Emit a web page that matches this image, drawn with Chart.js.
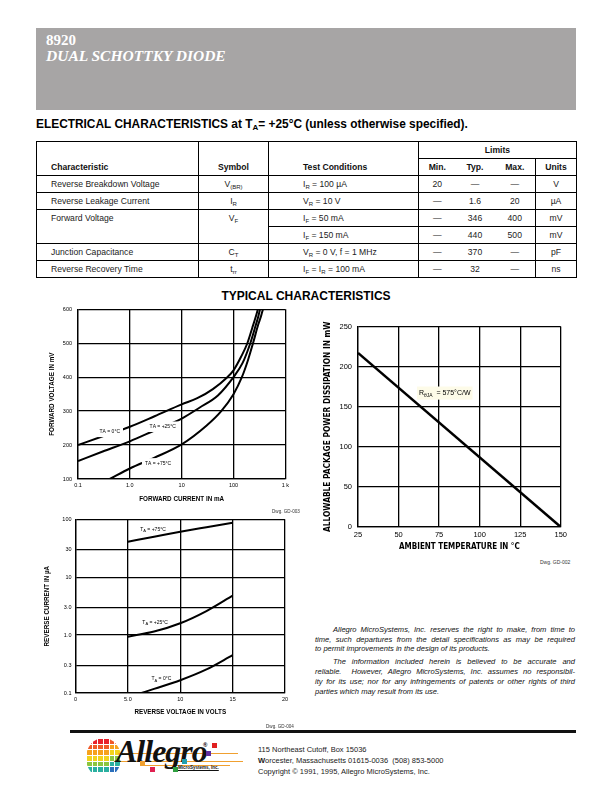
<!DOCTYPE html>
<html><head><meta charset="utf-8">
<script src="https://cdn.jsdelivr.net/npm/chart.js@4.4.1/dist/chart.umd.min.js"></script>
<style>
html,body{margin:0;padding:0;background:#fff;}
body{width:612px;height:792px;position:relative;overflow:hidden;font-family:"Liberation Sans",Arial,sans-serif;color:#000;}
.abs{position:absolute;}
#hdr{left:36px;top:28px;width:540px;height:82px;background:#a7a5a5;}
#hdr .pn{position:absolute;left:10px;top:4px;font:bold 15px "Liberation Serif","Times New Roman",serif;color:#fff;line-height:17px;}
#hdr .nm{position:absolute;left:10px;top:19px;font:italic bold 15.5px "Liberation Serif","Times New Roman",serif;color:#fff;line-height:18px;}
#ect{left:36px;top:117px;font:bold 11.9px "Liberation Sans",Arial,sans-serif;white-space:nowrap;}
#ect sub{font-size:8px;vertical-align:-2px;line-height:0;}
#tbl{left:36px;top:141px;width:540px;border-collapse:collapse;table-layout:fixed;font:8.6px "Liberation Sans",Arial,sans-serif;color:#222;}
#tbl td{border:1px solid #000;height:16px;padding:0;line-height:16px;white-space:nowrap;}
#tbl td.l{padding-left:14px;text-align:left;}
#tbl td.c{text-align:center;}
#tbl td.t{padding-left:34px;text-align:left;}
#tbl td.hb{font-weight:bold;color:#111;}
#tbl td.bot{vertical-align:bottom;}
#tbl td.top{vertical-align:top;}
#tbl td.nr{border-right:none;}
#tbl td.nl{border-left:none;}
#tbl sub{font-size:6px;vertical-align:-2px;line-height:0;}
#typ{left:0;width:612px;top:289px;text-align:center;font:bold 12px "Liberation Sans",Arial,sans-serif;}
canvas{position:absolute;}
.dwg{font:4.6px "Liberation Sans",Arial,sans-serif;color:#333;white-space:nowrap;}
#disc{left:315px;top:625px;width:260px;font:italic 7.55px "Liberation Sans",Arial,sans-serif;line-height:9.7px;color:#111;}
#disc div{text-align:justify;text-align-last:justify;white-space:nowrap;}
#disc div.last{text-align-last:left;}
#disc div.ind{padding-left:18px;}
#disc div.gap{margin-top:3.3px;}
#fline{left:70px;top:730px;width:506px;height:3px;background:#111;}
#addr{left:258px;top:745px;font:7.5px "Liberation Sans",Arial,sans-serif;line-height:10.8px;color:#222;white-space:nowrap;}
#ball{left:86px;top:738px;width:33px;height:38px;border-radius:50%;overflow:hidden;display:grid;grid-template-columns:repeat(6,4.5px);grid-auto-rows:4.5px;gap:1.2px;padding:1px;}
#ball span{display:block;}
#alg{left:116px;top:733px;font:italic bold 32px "Liberation Serif","Times New Roman",serif;letter-spacing:-1px;color:#111;}
.oline{position:absolute;height:1px;background:#f0a030;}
.sq{position:absolute;width:5px;height:5px;}
#ms{left:178px;top:765px;font:bold 4.5px "Liberation Sans",Arial,sans-serif;color:#111;text-decoration:underline;}
</style></head>
<body>
<div id="hdr" class="abs"><div class="pn">8920</div><div class="nm">DUAL SCHOTTKY DIODE</div></div>
<div id="ect" class="abs">ELECTRICAL CHARACTERISTICS at T<sub>A</sub>= +25°C (unless otherwise specified).</div>

<table id="tbl" class="abs">
<colgroup><col style="width:162px"><col style="width:70px"><col style="width:150px"><col style="width:37px"><col style="width:39px"><col style="width:41px"><col style="width:41px"></colgroup>
<tr><td rowspan="2" class="l hb bot">Characteristic</td><td rowspan="2" class="c hb bot">Symbol</td><td rowspan="2" class="t hb bot">Test Conditions</td><td colspan="4" class="c hb">Limits</td></tr>
<tr><td class="c hb nr">Min.</td><td class="c hb nl nr">Typ.</td><td class="c hb nl">Max.</td><td class="c hb">Units</td></tr>
<tr><td class="l">Reverse Breakdown Voltage</td><td class="c">V<sub>(BR)</sub></td><td class="t">I<sub>R</sub> = 100 µA</td><td class="c nr">20</td><td class="c nl nr">—</td><td class="c nl">—</td><td class="c">V</td></tr>
<tr><td class="l">Reverse Leakage Current</td><td class="c">I<sub>R</sub></td><td class="t">V<sub>R</sub> = 10 V</td><td class="c nr">—</td><td class="c nl nr">1.6</td><td class="c nl">20</td><td class="c">µA</td></tr>
<tr><td rowspan="2" class="l top">Forward Voltage</td><td rowspan="2" class="c top">V<sub>F</sub></td><td class="t">I<sub>F</sub> = 50 mA</td><td class="c nr">—</td><td class="c nl nr">346</td><td class="c nl">400</td><td class="c">mV</td></tr>
<tr><td class="t">I<sub>F</sub> = 150 mA</td><td class="c nr">—</td><td class="c nl nr">440</td><td class="c nl">500</td><td class="c">mV</td></tr>
<tr><td class="l">Junction Capacitance</td><td class="c">C<sub>T</sub></td><td class="t">V<sub>R</sub> = 0 V, f = 1 MHz</td><td class="c nr">—</td><td class="c nl nr">370</td><td class="c nl">—</td><td class="c">pF</td></tr>
<tr><td class="l">Reverse Recovery Time</td><td class="c">t<sub>rr</sub></td><td class="t">I<sub>F</sub> = I<sub>R</sub> = 100 mA</td><td class="c nr">—</td><td class="c nl nr">32</td><td class="c nl">—</td><td class="c">ns</td></tr>
</table>

<div id="typ" class="abs">TYPICAL CHARACTERISTICS</div>

<canvas id="c1" width="252" height="212" style="left:40px;top:300px;"></canvas>
<canvas id="c2" width="252" height="240" style="left:318px;top:316px;"></canvas>
<canvas id="c3" width="256" height="208" style="left:36px;top:512px;"></canvas>

<div class="abs dwg" style="left:272px;top:509px;">Dwg. GD-003</div>
<div class="abs dwg" style="left:540px;top:559px;font-size:5px;">Dwg. GD-002</div>
<div class="abs dwg" style="left:266px;top:724px;">Dwg. GD-004</div>

<div id="disc" class="abs">
<div class="ind">Allegro MicroSystems, Inc. reserves the right to make, from time to</div>
<div>time, such departures from the detail specifications as may be required</div>
<div class="last">to permit improvements in the design of its products.</div>
<div class="ind gap">The information included herein is believed to be accurate and</div>
<div>reliable.&nbsp; However, Allegro MicroSystems, Inc. assumes no responsibil-</div>
<div>ity for its use; nor for any infringements of patents or other rights of third</div>
<div class="last">parties which may result from its use.</div>
</div>

<div id="fline" class="abs"></div>
<div id="ball" class="abs"></div>
<div class="oline" style="left:118px;top:753px;width:120px;"></div>
<div class="oline" style="left:118px;top:761px;width:125px;"></div>
<div class="oline" style="left:140px;top:765px;width:90px;"></div>
<div id="alg" class="abs">Allegro</div>
<div class="abs" style="left:203px;top:742px;font:bold 6px 'Liberation Sans',Arial;">®</div>
<div class="sq" style="left:212px;top:743px;background:#e02020;"></div>
<div class="sq" style="left:206px;top:751px;background:#6030a0;"></div>
<div class="sq" style="left:140px;top:761px;background:#f0a030;"></div>
<div class="sq" style="left:150px;top:767px;background:#e02050;"></div>
<div class="sq" style="left:182px;top:759px;background:#20a0b0;"></div>
<div class="sq" style="left:173px;top:767px;background:#30a040;"></div>
<div id="ms" class="abs">MicroSystems, Inc.</div>
<div id="addr" class="abs">115 Northeast Cutoff, Box 15036<br><b>W</b>orcester, Massachusetts 01615-0036&nbsp; (508) 853-5000<br>Copyright © 1991, 1995, Allegro MicroSystems, Inc.</div>

<script>
// ---------- DATA ----------
// Forward voltage (mV) vs forward current (mA)
const fwdCurrent_0C  = [0.1, 0.3, 1, 3, 10, 20, 40, 76, 100, 140, 185, 230, 265, 295];
const fwdVoltage_0C  = [200, 226, 254, 285, 320, 338, 365, 400, 420, 460, 500, 545, 575, 600];
const fwdCurrent_25C = [0.1, 0.3, 1, 3, 10, 22, 50, 100, 150, 211, 265, 300, 325];
const fwdVoltage_25C = [153, 181, 211, 243, 278, 310, 346, 400, 442, 500, 550, 578, 600];
const fwdCurrent_75C = [0.41, 1, 3, 10, 30, 58, 100, 145, 190, 238, 300, 340, 370];
const fwdVoltage_75C = [100, 131, 163, 202, 257, 300, 350, 400, 450, 500, 555, 580, 600];
const fwdXTicks = [0.1, 1, 10, 100, 1000];
const fwdXTickLabels = ['0.1', '1.0', '10', '100', '1 k'];

// Power derating (mW vs °C)
const ambientTemp = [25, 150];
const powerDissipation = [217, 0];

// Reverse current (µA) vs reverse voltage (V)
const revVoltage_75C = [5, 7.5, 10, 12.5, 15];
const revCurrent_75C = [41, 50, 61, 73, 87];
const revVoltage_25C = [5, 7.5, 10, 12.5, 15];
const revCurrent_25C = [0.94, 1.15, 1.6, 2.6, 4.8];
const revVoltage_0C  = [6.3, 7.5, 10, 12.5, 15];
const revCurrent_0C  = [0.1, 0.118, 0.166, 0.255, 0.45];
const revYTicks = [0.1, 0.3, 1, 3, 10, 30, 100];
const revYTickLabels = ['0.1', '0.3', '1.0', '3.0', '10', '30', '100'];
const revXTickLabels = ['0', '5.0', '10', '15', '20'];

// ---------- rendering ----------
const FAM = '"Liberation Sans", Arial, sans-serif';
Chart.defaults.font.family = FAM;
Chart.defaults.color = '#000';

// choose a narrow bold font for the derating chart titles, sized to fit
const mctx = document.createElement('canvas').getContext('2d');
function titleFont(text, target, base) {
  mctx.font = 'bold 9px "DejaVu Sans"';
  const wn = mctx.measureText(text).width;
  mctx.font = 'bold condensed 9px "DejaVu Sans"';
  const wc = mctx.measureText(text).width;
  if (wc < wn * 0.93) {
    const size = Math.min(base, 9 * target / wc);
    return {size: size, weight: 'bold condensed', family: '"DejaVu Sans"'};
  }
  mctx.font = 'bold 9px ' + FAM;
  const wl = mctx.measureText(text).width;
  return {size: Math.min(base, 9 * target / wl), weight: 'bold', family: FAM};
}
const yTitle2 = 'ALLOWABLE PACKAGE POWER DISSIPATION IN mW';
const xTitle2 = 'AMBIENT TEMPERATURE IN °C';
const yFont2 = titleFont(yTitle2, 211, 9.5);
const xFont2 = titleFont(xTitle2, 121, 9.5);

const pts = (xs, ys) => xs.map((x, i) => ({x: x, y: ys[i]}));

const curveLabels = {
  id: 'curveLabels',
  afterDatasetsDraw(chart, args, o) {
    const ctx = chart.ctx, xs = chart.scales.x, ys = chart.scales.y;
    (o.items || []).forEach(it => {
      const px = xs.getPixelForValue(it.x), py = ys.getPixelForValue(it.y);
      const f = o.size, fs = f * (o.subScale || 0.75);
      ctx.save();
      let w = 0;
      it.parts.forEach(p => { ctx.font = (p[1] ? fs : f) + 'px ' + FAM; w += ctx.measureText(p[0]).width; });
      const x0 = px - w / 2;
      if (o.bg) {
        ctx.fillStyle = o.bg;
        ctx.fillRect(x0 - o.padX, py - f * 0.65 - o.padY, w + 2 * o.padX, f * 1.3 + 2 * o.padY);
      }
      ctx.fillStyle = '#000'; ctx.textBaseline = 'middle'; ctx.textAlign = 'left';
      let x = x0;
      it.parts.forEach(p => {
        ctx.font = (p[1] ? fs : f) + 'px ' + FAM;
        ctx.fillText(p[0], x, p[1] ? py + f * 0.3 : py);
        x += ctx.measureText(p[0]).width;
      });
      ctx.restore();
    });
  }
};

const gridOpts = {color: '#000', lineWidth: 1.3, drawTicks: false};
const borderOpts = {color: '#000', width: 1.3};
const lineDs = (data) => ({data: data, borderColor: '#000', borderWidth: 2, pointRadius: 0, fill: false, cubicInterpolationMode: 'monotone'});

// Chart 1: forward voltage
new Chart(document.getElementById('c1'), {
  type: 'line',
  data: {datasets: [
    lineDs(pts(fwdCurrent_0C, fwdVoltage_0C)),
    lineDs(pts(fwdCurrent_25C, fwdVoltage_25C)),
    lineDs(pts(fwdCurrent_75C, fwdVoltage_75C))
  ]},
  options: {
    responsive: false, animation: false, devicePixelRatio: 1,
    layout: {padding: {top: 7, right: 6, left: 0, bottom: 0}},
    plugins: {legend: {display: false}, tooltip: {enabled: false},
      curveLabels: {size: 5, padX: 3, padY: 2, bg: '#fff', subScale: 0.85, items: [
        {x: 0.41, y: 239, parts: [['T', 0], ['A', 0], [' = 0°C', 0]]},
        {x: 4.3, y: 254, parts: [['T', 0], ['A', 0], [' = +25°C', 0]]},
        {x: 3.5, y: 146, parts: [['T', 0], ['A', 0], [' = +75°C', 0]]}
      ]}},
    scales: {
      x: {type: 'logarithmic', min: 0.1, max: 1000,
        afterBuildTicks: s => { s.ticks = fwdXTicks.map(v => ({value: v})); },
        afterFit: s => { s.height = 33; },
        ticks: {callback: (v, i) => fwdXTickLabels[i], font: {size: 5.5}, padding: 3, maxRotation: 0, autoSkip: false},
        grid: gridOpts, border: borderOpts,
        title: {display: true, text: 'FORWARD CURRENT IN mA', font: {size: 6.3, weight: 'bold'}, padding: {top: 0, bottom: 9}}},
      y: {type: 'linear', min: 100, max: 600,
        afterFit: s => { s.width = 38; },
        ticks: {stepSize: 100, font: {size: 5.5}, padding: 6},
        grid: gridOpts, border: borderOpts,
        title: {display: true, text: 'FORWARD VOLTAGE IN mV', font: {size: 6.3, weight: 'bold'}, padding: {top: 8, bottom: 0}}}
    }
  },
  plugins: [curveLabels]
});

// Chart 2: power derating
new Chart(document.getElementById('c2'), {
  type: 'line',
  data: {datasets: [Object.assign(lineDs(pts(ambientTemp, powerDissipation)), {borderWidth: 2.5, cubicInterpolationMode: 'default', tension: 0})]},
  options: {
    responsive: false, animation: false, devicePixelRatio: 1,
    layout: {padding: {top: 7, right: 7, left: 0, bottom: 0}},
    plugins: {legend: {display: false}, tooltip: {enabled: false},
      curveLabels: {size: 7, padX: 2, padY: 2, bg: '#fdfbe8', subScale: 0.7, items: [
        {x: 78.5, y: 167, parts: [['R', 0], ['θJA', 1], ['  = 575°C/W', 0]]}
      ]}},
    scales: {
      x: {type: 'linear', min: 25, max: 150,
        afterFit: s => { s.height = 29; },
        ticks: {stepSize: 25, font: {size: 7.5}, padding: 3, maxRotation: 0},
        grid: gridOpts, border: borderOpts,
        title: {display: true, text: xTitle2, font: xFont2, padding: {top: 0, bottom: Math.max(0, 8.7 - xFont2.size * 0.6)}}},
      y: {type: 'linear', min: 0, max: 250,
        afterFit: s => { s.width = 40; },
        ticks: {stepSize: 50, font: {size: 7.5}, padding: 6},
        grid: gridOpts, border: borderOpts,
        title: {display: true, text: yTitle2, font: yFont2, padding: {top: Math.max(0, 9.5 - yFont2.size * 0.6), bottom: 0}}}
    }
  },
  plugins: [curveLabels]
});

// Chart 3: reverse current
new Chart(document.getElementById('c3'), {
  type: 'line',
  data: {datasets: [
    lineDs(pts(revVoltage_75C, revCurrent_75C)),
    lineDs(pts(revVoltage_25C, revCurrent_25C)),
    lineDs(pts(revVoltage_0C, revCurrent_0C))
  ]},
  options: {
    responsive: false, animation: false, devicePixelRatio: 1,
    layout: {padding: {top: 7, right: 7, left: 0, bottom: 0}},
    plugins: {legend: {display: false}, tooltip: {enabled: false},
      curveLabels: {size: 5, padX: 0, padY: 0, bg: null, subScale: 0.8, items: [
        {x: 7.4, y: 67, parts: [['T', 0], ['A', 1], [' = +75°C', 0]]},
        {x: 7.6, y: 1.67, parts: [['T', 0], ['A', 1], [' = +25°C', 0]]},
        {x: 8.2, y: 0.174, parts: [['T', 0], ['A', 1], [' = 0°C', 0]]}
      ]}},
    scales: {
      x: {type: 'linear', min: 0, max: 20,
        afterFit: s => { s.height = 27; },
        ticks: {stepSize: 5, callback: (v, i) => revXTickLabels[i], font: {size: 5.5}, padding: 3, maxRotation: 0},
        grid: gridOpts, border: borderOpts,
        title: {display: true, text: 'REVERSE VOLTAGE IN VOLTS', font: {size: 6.3, weight: 'bold'}, padding: {top: 0, bottom: 4.1}}},
      y: {type: 'logarithmic', min: 0.1, max: 100,
        afterBuildTicks: s => { s.ticks = revYTicks.map(v => ({value: v})); },
        afterFit: s => { s.width = 39.5; },
        ticks: {callback: (v, i) => revYTickLabels[i], font: {size: 5.5}, padding: 4, autoSkip: false},
        grid: gridOpts, border: borderOpts,
        title: {display: true, text: 'REVERSE CURRENT IN µA', font: {size: 6.3, weight: 'bold'}, padding: {top: 7.1, bottom: 0}}}
    }
  },
  plugins: [curveLabels]
});

// logo ball squares (decoration)
(function(){
  const rows = ['#e8202a','#f05a28','#f7a21b','#f2d31b','#8cc63f','#2ab0a0','#2a6ebb'];
  const b = document.getElementById('ball');
  for (let r = 0; r < 6; r++) for (let c = 0; c < 6; c++) {
    const s = document.createElement('span');
    s.style.background = rows[Math.min(6, r + (c > 3 ? 1 : 0))];
    b.appendChild(s);
  }
})();
</script>
</body></html>
